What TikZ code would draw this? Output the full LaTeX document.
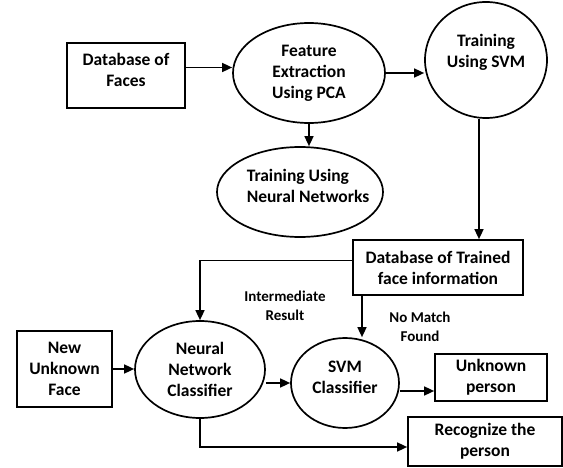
\documentclass[tikz,border=0pt]{standalone}
\usepackage{fontspec}
\setmainfont{Carlito}
\usetikzlibrary{shapes, arrows.meta}

\begin{document}
\begin{tikzpicture}[x=1pt, y=-1pt,
        every node/.style={font=\fontsize{17.5}{21}\selectfont\bfseries, align=center},
        box/.style={draw, rectangle, line width=1.7pt, inner sep=0pt},
        oval/.style={draw, ellipse, line width=1.7pt, inner sep=0pt},
        note/.style={font=\fontsize{15}{19}\selectfont\bfseries},
        flow/.style={-{Triangle[length=10pt,width=9pt]}, line width=1.5pt}]
        \useasboundingbox (0,0) rectangle (563,468);

        \node (dbfaces) [box, line width=2.8pt, minimum width=118pt, minimum height=65pt,
            label={[yshift=6pt]center:{Database of\\Faces}}] at (126,75.5) {};
        \node (feature) [oval, minimum width=152pt, minimum height=100pt] at (309,73) {Feature\\Extraction\\Using PCA};
        \node (svmtrain) [oval, minimum width=122pt, minimum height=116pt,
            label={[yshift=8pt]center:{Training\\Using SVM}}] at (486,60) {};
        \node (nntrain) [oval, minimum width=166pt, minimum height=90pt,
            label={[xshift=8pt, yshift=6pt, align=left]center:{Training Using\\Neural Networks}}] at (300,192) {};
        \node (dbtrained) [box, minimum width=170pt, minimum height=55pt] at (438,267.5) {Database of Trained\\face information};

        \node (newface) [box, minimum width=95pt, minimum height=76pt] at (64.5,369) {New\\Unknown\\Face};
        \node (nnclass) [oval, minimum width=130pt, minimum height=97pt] at (200,369.5) {Neural\\Network\\Classifier};
        \node (svmclass) [oval, minimum width=108pt, minimum height=90pt,
            label={[yshift=6pt]center:{SVM\\Classifier}}] at (345,383) {};
        \node (unknown) [box, minimum width=112pt, minimum height=47pt] at (491,377.5) {Unknown\\person};
        \node (recog) [box, minimum width=154pt, minimum height=49pt] at (485,441.5) {Recognize the\\person};

        \node (midresult) [note] at (285,306) {Intermediate\\Result};
        \node (nomatch) [note] at (420,327) {No Match\\Found};

        \draw [flow] ([yshift=8pt]dbfaces.east) -- ([yshift=8pt]dbfaces.east -| feature.west);
        \draw [flow] (feature.east) -- (feature.east -| svmtrain.west);
        \draw [flow] (feature.south) -- (feature.south |- nntrain.north);
        \draw [flow] ([xshift=-7pt]svmtrain.south) -- ([xshift=-7pt]svmtrain.south |- dbtrained.north);
        \draw [flow] ([yshift=7pt]dbtrained.west) -| (nnclass.north);
        \draw [flow] ([xshift=-76pt]dbtrained.south) -- ([xshift=-76pt]dbtrained.south |- svmclass.north);
        \draw [flow] (newface.east) -- (newface.east -| nnclass.west);
        \draw [flow] (svmclass.west -| nnclass.east) -- (svmclass.west);
        \draw [flow] ([yshift=-8pt]svmclass.east) -- ([yshift=-8pt]svmclass.east -| unknown.west);
        \draw [flow] (nnclass.south) |- ([yshift=-5.5pt]recog.west);
    \end{tikzpicture}
\end{document}
